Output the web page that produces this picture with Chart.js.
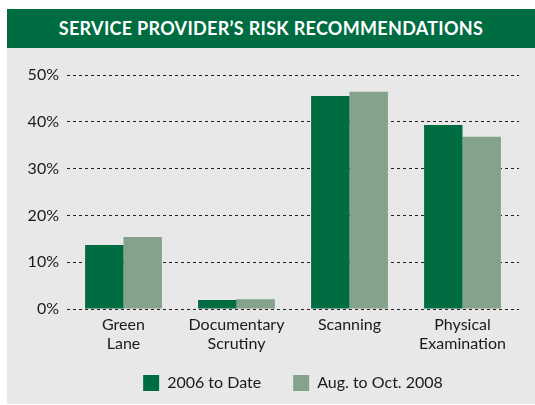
<!DOCTYPE html>
<html>
<head>
<meta charset="utf-8">
<script src="https://cdn.jsdelivr.net/npm/chart.js@4"></script>
<style>
  body { margin: 0; background: #fff; width: 535px; height: 405px; overflow: hidden; }
  #panel { position: absolute; left: 7px; top: 9px; width: 528px; height: 395px; background: #e8e8e8; overflow: hidden; }
  #header { height: 39px; background: #006c42; color: #fff; font: bold 18px Lato, sans-serif;
            line-height: 39px; text-align: center; letter-spacing: 0.3px; }
  #wrap { position: absolute; left: 0; top: 39px; width: 528px; height: 363px; }
</style>
</head>
<body>
<div id="panel">
  <div id="header">SERVICE PROVIDER’S RISK RECOMMENDATIONS</div>
  <div id="wrap"><canvas id="myChart"></canvas></div>
</div>
<script>
//chart data
const categories = [["Green", "Lane"], ["Documentary", "Scrutiny"], ["Scanning"], ["Physical", "Examination"]];
const seriesNames = ["2006 to Date", "Aug. to Oct. 2008"];
const toDate = [13.7, 1.9, 45.5, 39.3];
const augOct = [15.4, 2.1, 46.4, 36.8];
const yTicks = [0, 10, 20, 30, 40, 50];

Chart.defaults.font.family = "Lato, sans-serif";
Chart.defaults.color = "#1a1a1a";

//move legend so it sits centred under the plot, a bit higher
const legendShift = {
    id: 'legendShift',
    afterLayout(chart) {
        let lg = chart.legend;
        lg.left += 30; lg.right += 30;
        lg.top -= 10; lg.bottom -= 10;
    }
};

let ctx = document.getElementById('myChart').getContext('2d');
let myChart = new Chart(ctx, {
    type: 'bar',
    data: {
        labels: categories,
        datasets: [{
            label: seriesNames[0],
            data: toDate,
            backgroundColor: '#006c42',
            categoryPercentage: 0.68,
            barPercentage: 1
        }, {
            label: seriesNames[1],
            data: augOct,
            backgroundColor: '#85a28a',
            categoryPercentage: 0.68,
            barPercentage: 1
        }]
    },
    plugins: [legendShift],
    options: {
        responsive: true,
        maintainAspectRatio: false,
        animation: false,
        layout: { padding: { top: 27, right: 16, bottom: 0, left: 0 } },
        plugins: {
            tooltip: { enabled: false },
            legend: {
                position: 'bottom',
                labels: {
                    boxWidth: 16,
                    boxHeight: 16,
                    padding: 32,
                    font: { size: 16 }
                }
            }
        },
        scales: {
            x: {
                grid: { display: false, drawTicks: false },
                border: { display: false },
                ticks: { padding: 6, font: { size: 16 }, maxRotation: 0 },
                afterFit: scale => { scale.height = 44; }
            },
            y: {
                min: 0,
                max: 50,
                afterBuildTicks: scale => { scale.ticks = yTicks.map(v => ({ value: v })); },
                grid: { color: '#222', lineWidth: 1, drawTicks: false },
                border: { display: false, dash: [3, 3] },
                ticks: {
                    padding: 8,
                    font: { size: 16 },
                    callback: v => v + '%'
                },
                afterFit: scale => { scale.width = 60; }
            }
        }
    }
});
</script>
</body>
</html>
